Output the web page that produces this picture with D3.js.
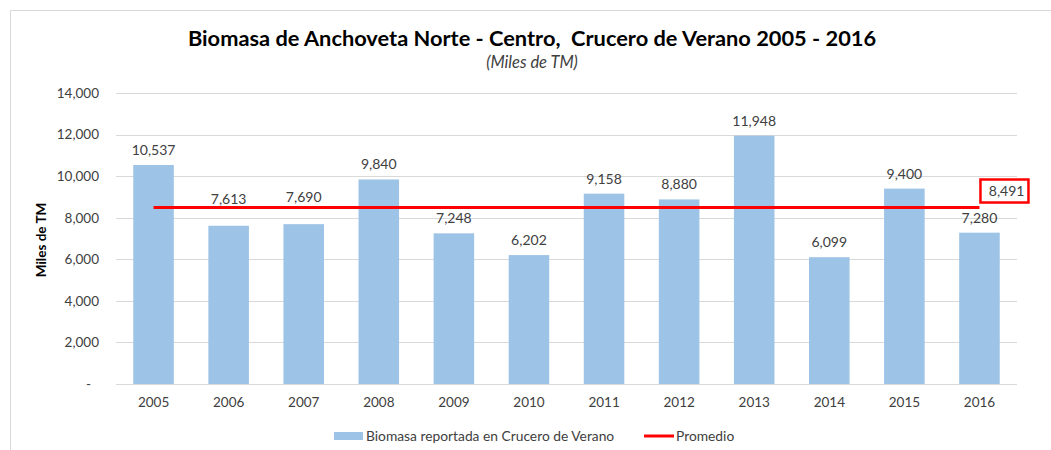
<!DOCTYPE html>
<html>
<head>
<meta charset="utf-8">
<script src="https://cdn.jsdelivr.net/npm/d3@7"></script>
<style>
  body { margin: 0; background: #fff; }
  text { font-family: Lato, "Open Sans", sans-serif; fill: #404040; }
</style>
</head>
<body>
<svg id="canvas" width="1051" height="450"></svg>
<script>
let years = ['2005','2006','2007','2008','2009','2010','2011','2012','2013','2014','2015','2016']
let biomasa = [10537, 7613, 7690, 9840, 7248, 6202, 9158, 8880, 11948, 6099, 9400, 7280]
let promedio = 8491
let yTicks = [0, 2000, 4000, 6000, 8000, 10000, 12000, 14000]

let svg = d3.select('#canvas')
let fmt = d3.format(',')

// chart frame (only top and left edges show in the picture)
svg.append('rect')
    .attr('x', 10.5).attr('y', 10.5)
    .attr('width', 1100).attr('height', 500)
    .attr('fill', 'none')
    .attr('stroke', '#d9d9d9')

let x = d3.scaleBand().domain(years).range([116, 1017]).paddingInner(0.46).paddingOuter(0.23)
let y = d3.scaleLinear().domain([0, 14000]).range([384, 93])

// grid
svg.append('g')
    .selectAll('line')
    .data(yTicks)
    .enter()
    .append('line')
    .attr('x1', 116).attr('x2', 1017)
    .attr('y1', d => Math.round(y(d)) + 0.5)
    .attr('y2', d => Math.round(y(d)) + 0.5)
    .attr('stroke', '#d9d9d9')
    .attr('stroke-width', 1)

// y axis labels
let yAxis = d3.axisLeft(y).tickValues(yTicks).tickSize(0).tickPadding(0)
    .tickFormat(d => d === 0 ? '-' : fmt(d))
let gy = svg.append('g').attr('transform', 'translate(99,0)').call(yAxis)
gy.select('.domain').remove()
gy.selectAll('text')
    .style('font-family', 'Lato, sans-serif')
    .style('font-size', '13.5px')
    .style('fill', '#404040')
gy.selectAll('text').filter(d => d === 0).attr('dx', -8)

// x axis labels
let xAxis = d3.axisBottom(x).tickSize(0).tickPadding(0)
let gx = svg.append('g').attr('transform', 'translate(0,397)').call(xAxis)
gx.select('.domain').remove()
gx.selectAll('text')
    .style('font-family', 'Lato, sans-serif')
    .style('font-size', '13.5px')
    .style('fill', '#404040')

// bars
svg.append('g')
    .selectAll('rect')
    .data(biomasa)
    .enter()
    .append('rect')
    .attr('x', (d, i) => x(years[i]))
    .attr('y', d => y(d))
    .attr('width', x.bandwidth())
    .attr('height', d => y(0) - y(d))
    .attr('fill', '#9dc3e6')

// average line
let cx = yr => x(yr) + x.bandwidth() / 2
svg.append('line')
    .attr('x1', cx(years[0]))
    .attr('x2', cx(years[years.length - 1]))
    .attr('y1', y(promedio))
    .attr('y2', y(promedio))
    .attr('stroke', '#ff0000')
    .attr('stroke-width', 3)

// value labels, pushed above the average line where they would cross it
svg.append('g')
    .selectAll('text')
    .data(biomasa)
    .enter()
    .append('text')
    .attr('x', (d, i) => cx(years[i]))
    .attr('y', d => {
        let ly = y(d) - 15
        if (Math.abs(ly - y(promedio)) < 8) ly -= 12
        return ly
    })
    .attr('dy', '0.35em')
    .attr('text-anchor', 'middle')
    .style('font-size', '14px')
    .text(d => fmt(d))

// average label box
let boxX = cx(years[years.length - 1]) + 1
let boxY = y(promedio) - 28
svg.append('rect')
    .attr('x', boxX).attr('y', boxY)
    .attr('width', 48).attr('height', 23)
    .attr('fill', '#fff')
    .attr('stroke', '#ff0000')
    .attr('stroke-width', 2.5)
svg.append('text')
    .attr('x', boxX + 44).attr('y', boxY + 12)
    .attr('dy', '0.35em')
    .attr('text-anchor', 'end')
    .style('font-size', '14px')
    .text(fmt(promedio))

// titles
svg.append('text')
    .attr('x', 532).attr('y', 38)
    .attr('dy', '0.35em')
    .attr('text-anchor', 'middle')
    .attr('xml:space', 'preserve')
    .style('font-size', '21.8px')
    .style('font-weight', 'bold')
    .style('fill', '#000')
    .text('Biomasa de Anchoveta Norte - Centro,  Crucero de Verano 2005 - 2016')
svg.append('text')
    .attr('x', 532).attr('y', 62)
    .attr('dy', '0.35em')
    .attr('text-anchor', 'middle')
    .style('font-size', '16.5px')
    .style('font-style', 'italic')
    .text('(Miles de TM)')

svg.append('text')
    .attr('transform', 'translate(41,240) rotate(-90)')
    .attr('dy', '0.35em')
    .attr('text-anchor', 'middle')
    .style('font-size', '13.5px')
    .style('font-weight', 'bold')
    .style('fill', '#000')
    .text('Miles de TM')

// legend
let leg = svg.append('g')
leg.append('rect')
    .attr('x', 334).attr('y', 432)
    .attr('width', 29).attr('height', 8)
    .attr('fill', '#9dc3e6')
leg.append('text')
    .attr('x', 366).attr('y', 436)
    .attr('dy', '0.35em')
    .style('font-size', '13.8px')
    .text('Biomasa reportada en Crucero de Verano')
leg.append('line')
    .attr('x1', 644).attr('x2', 674)
    .attr('y1', 436).attr('y2', 436)
    .attr('stroke', '#ff0000')
    .attr('stroke-width', 3)
leg.append('text')
    .attr('x', 676).attr('y', 436)
    .attr('dy', '0.35em')
    .style('font-size', '13.8px')
    .text('Promedio')
</script>
</body>
</html>
